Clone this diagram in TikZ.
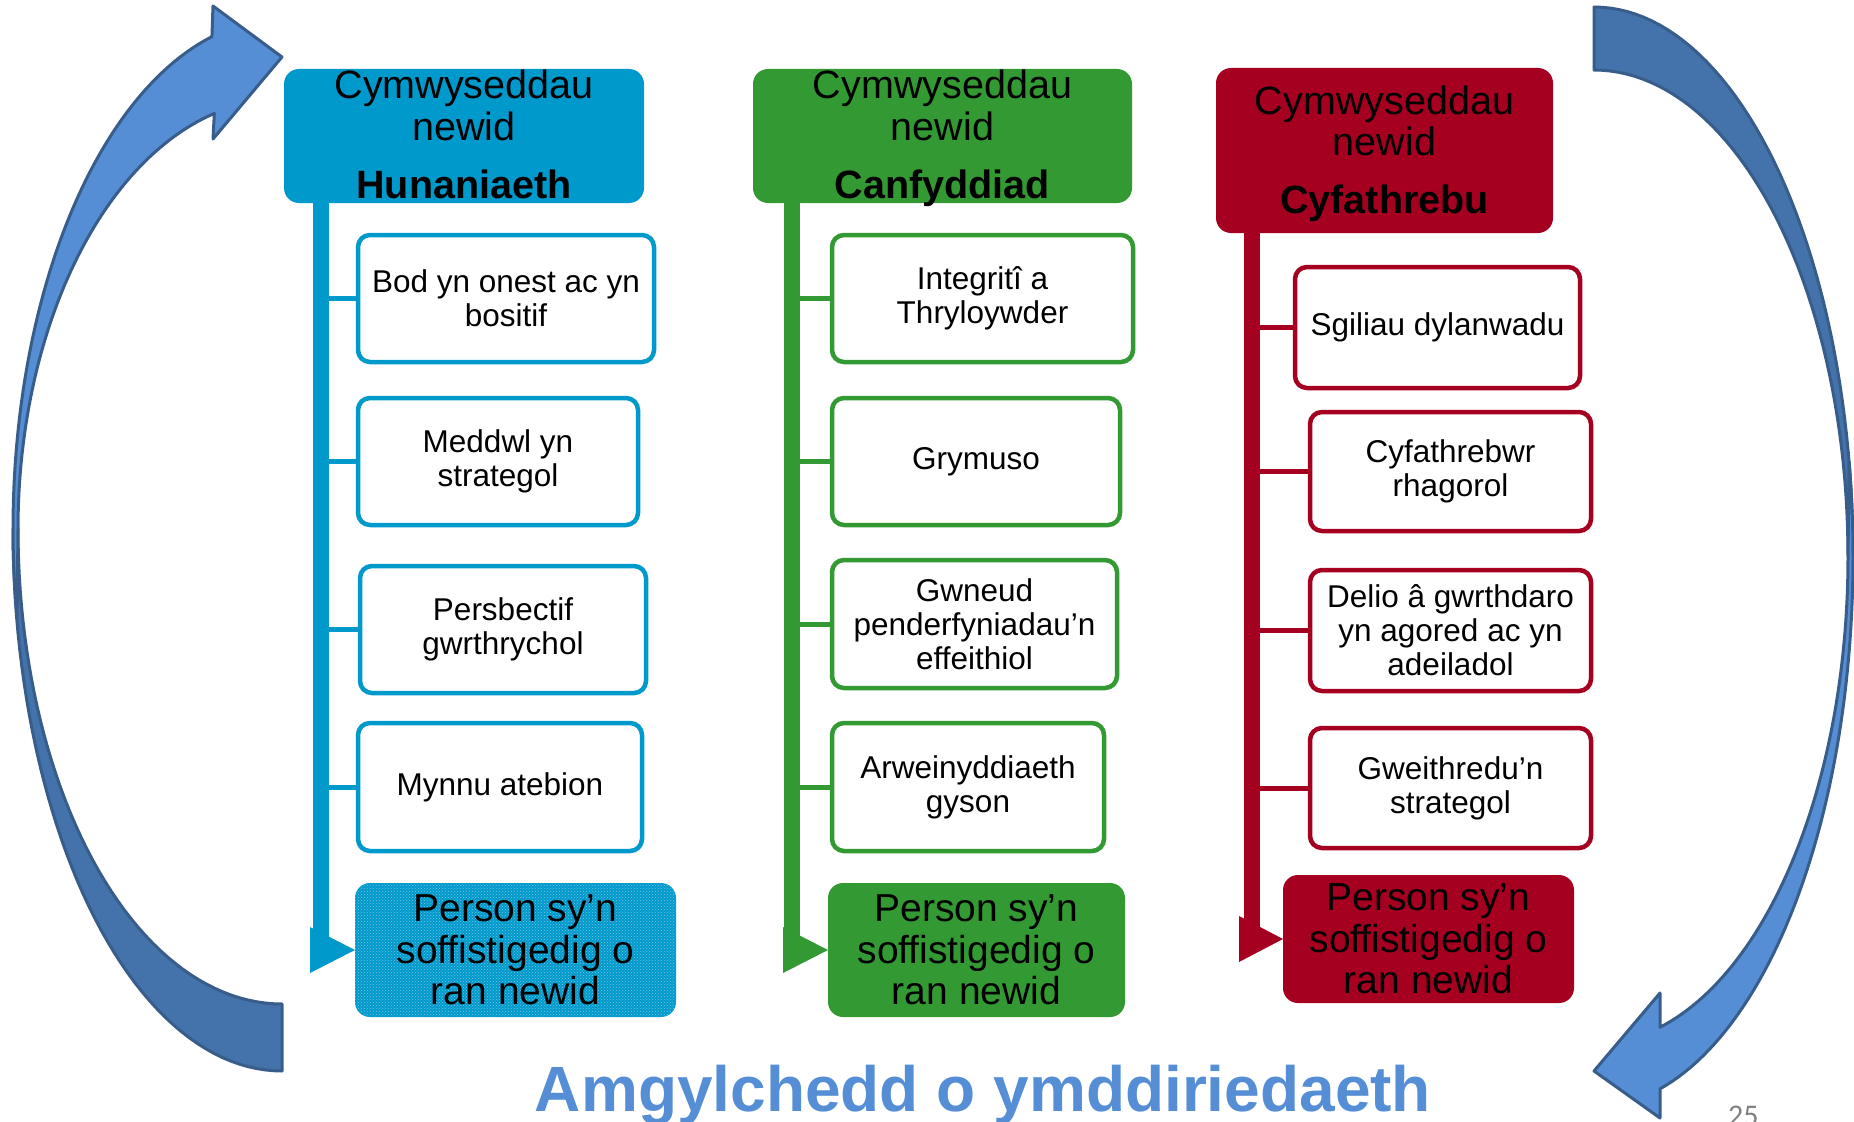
\documentclass[tikz,border=0pt]{standalone}
\usepackage{fontspec}
\setmainfont{Liberation Sans}
\newfontfamily\pagenumfont{Carlito}
\usetikzlibrary{patterns}

\definecolor{cblue}{RGB}{0,153,204}
\definecolor{cgreen}{RGB}{51,153,51}
\definecolor{cred}{RGB}{166,0,33}
\definecolor{arrlight}{RGB}{85,142,213}
\definecolor{arrdark}{RGB}{68,114,170}
\definecolor{arrline}{RGB}{56,93,138}
\definecolor{titleblue}{RGB}{85,142,213}

\newcommand\hdrfont{\fontsize{39.5}{40}\selectfont}
\newcommand\itemfont{\fontsize{31.5}{34}\selectfont}
\newcommand\resfont{\fontsize{39}{41.5}\selectfont}

\begin{document}
\begin{tikzpicture}[x=1pt,y=-1pt,
  hdr/.style={fill=#1, rounded corners=15pt, inner sep=0pt, outer sep=0pt},
  hdrline/.style={anchor=base, inner sep=0pt, font=\hdrfont},
  item/.style={draw=#1, fill=white, line width=4.5pt, rounded corners=12pt,
    inner sep=0pt, align=center, font=\itemfont},
  result/.style={fill=#1, rounded corners=15pt, inner sep=0pt, outer sep=0pt,
    align=center, font=\resfont},
  trunk/.style={draw=#1, line width=16pt},
  conn/.style={draw=#1, line width=5pt},
  ribbon/.style={draw=arrline, line width=3pt, line join=round}]

\useasboundingbox (0,0) rectangle (1854,1121);
\clip (0,0) rectangle (1854,1121);

% ---- left curved arrow (rising back to the top) ----
\fill[ribbon, fill=arrdark]
  plot[domain=90:180, samples=50] ({282+269*cos(\x)}, {529+542*sin(\x)})
  -- plot[domain=180:90, samples=50] ({282+264*cos(\x)}, {529+475*sin(\x)})
  -- cycle;
\fill[ribbon, fill=arrlight]
  plot[domain=170:254.9, samples=60] ({282+269*cos(\x)}, {529+510*sin(\x)})
  -- (213,6) -- (282,57) -- (213,139)
  -- plot[domain=255.15:180, samples=60] ({282+264*cos(\x)}, {529+430*sin(\x)})
  -- cycle;

% ---- right curved arrow (descending) ----
\fill[ribbon, fill=arrdark]
  plot[domain=-90:0, samples=50] ({1594+259*cos(\x)}, {557+550*sin(\x)})
  -- plot[domain=0:-90, samples=50] ({1594+254*cos(\x)}, {557+487*sin(\x)})
  -- cycle;
\fill[ribbon, fill=arrlight]
  plot[domain=-10:75.24, samples=60] ({1594+259*cos(\x)}, {557+550*sin(\x)})
  -- (1660,1118) -- (1594,1071) -- (1660,993)
  -- plot[domain=74.94:0, samples=60] ({1594+254*cos(\x)}, {557+487*sin(\x)})
  -- cycle;

% ---- column 1: Hunaniaeth ----
\coordinate (tb) at (321,0);
\node[hdr=cblue, minimum width=360pt, minimum height=134pt] (h1) at (464,136) {};
\node[hdrline] (h1a) at (464,99) {Cymwyseddau};
\node[hdrline] (h1b) at (464,140) {newid};
\node[hdrline] (h1c) at (464,198) {\bfseries Hunaniaeth};
\node[item=cblue, minimum width=296pt, minimum height=127pt] (b1) at (506,298.5)
  {Bod yn onest ac yn\\bositif};
\node[item=cblue, minimum width=280pt, minimum height=127pt] (b2) at (498,461.5)
  {Meddwl yn\\strategol};
\node[item=cblue, minimum width=286pt, minimum height=127pt] (b3) at (503,629.5)
  {Persbectif\\gwrthrychol};
\node[item=cblue, minimum width=284pt, minimum height=128pt] (b4) at (500,787)
  {Mynnu atebion};
\node[result=cblue, minimum width=321pt, minimum height=134pt,
  postaction={pattern=crosshatch dots, pattern color=cblue!55!white}] (f1) at (515.5,950)
  {Person sy’n\\soffistigedig o\\ran newid};
\draw[trunk=cblue] (h1.south -| tb) -- (f1.west -| tb);
\foreach \b in {b1,b2,b3,b4} \draw[conn=cblue] (\b.west -| tb) -- (\b.west);
\fill[cblue] (f1.west) -- ++(-45,-23) -- ++(0,46) -- cycle;

% ---- column 2: Canfyddiad ----
\coordinate (tg) at (792,0);
\node[hdr=cgreen, minimum width=379pt, minimum height=134pt] (h2) at (942.5,136) {};
\node[hdrline] (h2a) at (942.5,99) {Cymwyseddau};
\node[hdrline] (h2b) at (942.5,140) {newid};
\node[hdrline] (h2c) at (942.5,198) {\bfseries Canfyddiad};
\node[item=cgreen, minimum width=301pt, minimum height=127pt] (g1) at (982.5,298.5)
  {Integritî a\\Thryloywder};
\node[item=cgreen, minimum width=288pt, minimum height=127pt] (g2) at (976,461.5)
  {Grymuso};
\node[item=cgreen, minimum width=285pt, minimum height=128pt] (g3) at (974.5,624)
  {Gwneud\\penderfyniadau’n\\effeithiol};
\node[item=cgreen, minimum width=272pt, minimum height=128pt] (g4) at (968,787)
  {Arweinyddiaeth\\gyson};
\node[result=cgreen, minimum width=297pt, minimum height=134pt] (f2) at (976.5,950)
  {Person sy’n\\soffistigedig o\\ran newid};
\draw[trunk=cgreen] (h2.south -| tg) -- (f2.west -| tg);
\foreach \b in {g1,g2,g3,g4} \draw[conn=cgreen] (\b.west -| tg) -- (\b.west);
\fill[cgreen] (f2.west) -- ++(-45,-23) -- ++(0,46) -- cycle;

% ---- column 3: Cyfathrebu ----
\coordinate (tr) at (1251.5,0);
\node[hdr=cred, minimum width=337pt, minimum height=165pt] (h3) at (1384.5,150.5) {};
\node[hdrline] (h3a) at (1384.5,114) {Cymwyseddau};
\node[hdrline] (h3b) at (1384.5,155) {newid};
\node[hdrline] (h3c) at (1384.5,213) {\bfseries Cyfathrebu};
\node[item=cred, minimum width=285pt, minimum height=121pt] (r1) at (1437.5,327.5)
  {Sgiliau dylanwadu};
\node[item=cred, minimum width=281pt, minimum height=119pt] (r2) at (1450.5,471.5)
  {Cyfathrebwr\\rhagorol};
\node[item=cred, minimum width=281pt, minimum height=121pt] (r3) at (1450.5,630.5)
  {Delio â gwrthdaro\\yn agored ac yn\\adeiladol};
\node[item=cred, minimum width=281pt, minimum height=120pt] (r4) at (1450.5,788)
  {Gweithredu’n\\strategol};
\node[result=cred, minimum width=291pt, minimum height=128pt] (f3) at (1428.5,939)
  {Person sy’n\\soffistigedig o\\ran newid};
\draw[trunk=cred] (h3.south -| tr) -- (f3.west -| tr);
\foreach \b in {r1,r2,r3,r4} \draw[conn=cred] (\b.west -| tr) -- (\b.west);
\fill[cred] (f3.west) -- ++(-44,-23) -- ++(0,46) -- cycle;

% ---- bottom caption and page number ----
\node[font=\bfseries\fontsize{64}{70}\selectfont, text=titleblue, anchor=base,
  inner sep=0pt] (title) at (983,1111) {Amgylchedd o ymddiriedaeth};
\node[font=\pagenumfont\fontsize{30}{32}\selectfont, text=gray, anchor=base west,
  inner sep=0pt] (pnum) at (1728,1125) {25};
\end{tikzpicture}
\end{document}
